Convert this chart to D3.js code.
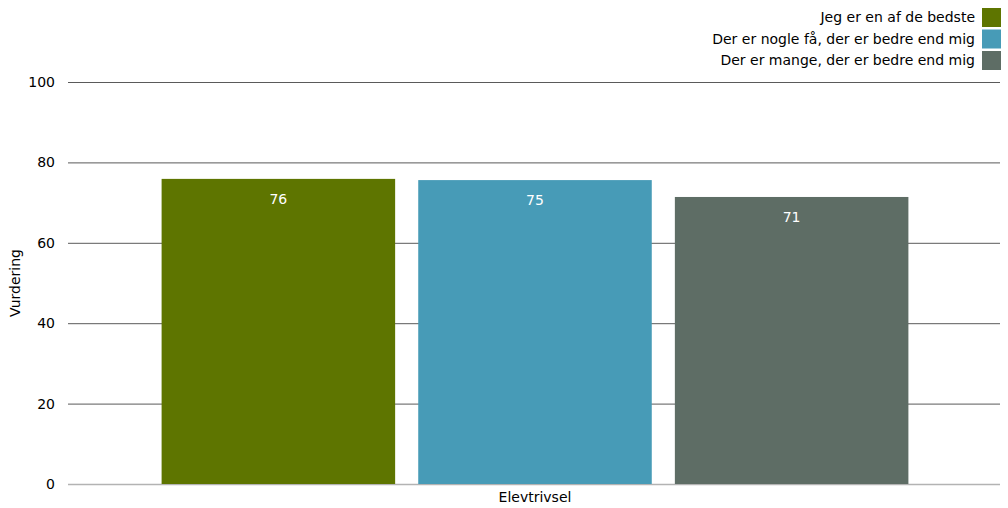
<!DOCTYPE html>
<html>
<head>
<meta charset="utf-8">
<script src="https://cdn.jsdelivr.net/npm/d3@7"></script>
<style>
  body { margin: 0; background: #fff; }
  text { font-family: "DejaVu Sans", sans-serif; }
</style>
</head>
<body>
<div id="chart"></div>
<script>
// Data
var categories = ["Elevtrivsel"];
var seriesNames = ["Jeg er en af de bedste", "Der er nogle få, der er bedre end mig", "Der er mange, der er bedre end mig"];
var seriesValues = [75.9, 75.6, 71.4];
var valueLabels = ["76", "75", "71"];
var seriesColors = ["#5e7500", "#479bb7", "#5e6d65"];
var yTicks = [0, 20, 40, 60, 80, 100];

var width = 1008, height = 508;
var margin = {top: 82, right: 8, bottom: 24, left: 68};

var svg = d3.select('#chart')
  .append('svg')
    .attr('width', width)
    .attr('height', height);

// Scales
var y = d3.scaleLinear()
  .domain([0, 100])
  .range([height - margin.bottom, margin.top]);

var x0 = d3.scaleBand()
  .domain(categories)
  .range([margin.left + 1, width - margin.right + 1])
  .paddingInner(0)
  .paddingOuter(0.124);

var x1 = d3.scaleBand()
  .domain(seriesNames)
  .range([0, x0.bandwidth()])
  .paddingInner(0.09)
  .paddingOuter(0);

// Gridlines + tick labels
var yAxis = svg.append("g")
  .attr("class", "y-axis")
  .attr("transform", `translate(${margin.left},0)`)
  .call(d3.axisLeft(y).tickValues(yTicks).tickSize(-(width - margin.left - margin.right)).tickPadding(13));
yAxis.select(".domain").remove();
yAxis.selectAll(".tick line")
  .attr("stroke", d => d === 0 ? "#b3b3b3" : "#5a5a5a")
  .attr("stroke-width", d => d === 0 ? 1.5 : 1);
yAxis.selectAll(".tick text")
  .style("font-family", "DejaVu Sans, sans-serif")
  .style("font-size", "14px")
  .attr("fill", "#000");

// Bars
var rows = seriesNames.map((s, i) => ({name: s, value: seriesValues[i], label: valueLabels[i], color: seriesColors[i]}));

var group = svg.append("g")
  .attr("transform", `translate(${x0(categories[0])},0)`);

group.selectAll("rect")
  .data(rows)
  .enter().append("rect")
    .attr("x", d => x1(d.name))
    .attr("y", d => y(d.value))
    .attr("width", x1.bandwidth())
    .attr("height", d => y(0) - y(d.value))
    .attr("fill", d => d.color);

group.selectAll("text.val")
  .data(rows)
  .enter().append("text")
    .attr("class", "val")
    .attr("x", d => x1(d.name) + x1.bandwidth() / 2)
    .attr("y", d => y(d.value) + 25)
    .attr("text-anchor", "middle")
    .style("font-size", "14px")
    .attr("fill", "#fff")
    .text(d => d.label);

// Category label
svg.append("text")
  .attr("x", x0(categories[0]) + x0.bandwidth() / 2)
  .attr("y", height - 6)
  .attr("text-anchor", "middle")
  .style("font-size", "14px")
  .text(categories[0]);

// Axis title
svg.append("text")
  .attr("transform", `translate(20,${(y(0) + y(100)) / 2}) rotate(-90)`)
  .attr("text-anchor", "middle")
  .style("font-size", "14px")
  .text("Vurdering");

// Legend
var legend = svg.append("g").attr("class", "legend");
var legendRows = legend.selectAll("g")
  .data(rows)
  .enter().append("g")
    .attr("transform", (d, i) => `translate(${width - 26},${8 + i * 21.5})`);
legendRows.append("rect")
  .attr("width", 19)
  .attr("height", 19)
  .attr("fill", d => d.color);
legendRows.append("text")
  .attr("x", -7)
  .attr("y", 14)
  .attr("text-anchor", "end")
  .style("font-size", "14px")
  .text(d => d.name);
</script>
</body>
</html>
